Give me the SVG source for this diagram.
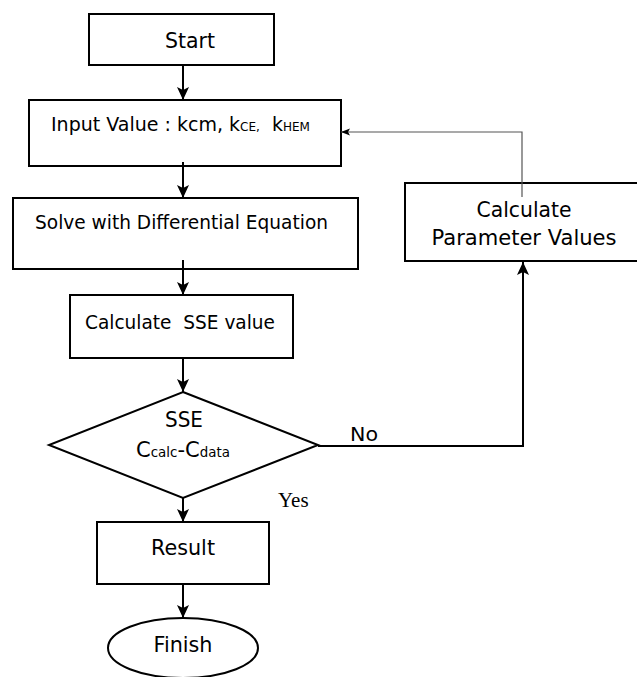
<svg xmlns="http://www.w3.org/2000/svg" width="637" height="677" viewBox="0 0 637 677">
<defs>
<style>
.box{fill:#fff;stroke:#000;stroke-width:2}
.t{font-family:"DejaVu Sans",Verdana,sans-serif;fill:#000}
.c{stroke:#000;stroke-width:2;fill:none}
.g{stroke:#555;stroke-width:1.2;fill:none}
</style>
<marker id="ah" markerUnits="userSpaceOnUse" markerWidth="14" markerHeight="14" viewBox="0 0 14 14" refX="13" refY="7" orient="auto">
<path d="M0,1 L13,7 L0,13 L3,7 Z" fill="#000"/>
</marker>
<marker id="ahs" markerUnits="userSpaceOnUse" markerWidth="10" markerHeight="10" viewBox="0 0 10 10" refX="9" refY="5" orient="auto">
<path d="M0,1.5 L9,5 L0,8.5 L2,5 Z" fill="#000"/>
</marker>
</defs>
<rect width="637" height="677" fill="#fff"/>
<g id="start">
<rect class="box" x="89" y="14" width="185" height="51"/>
<text class="t" x="190" y="48" font-size="21" text-anchor="middle" textLength="50" lengthAdjust="spacingAndGlyphs">Start</text>
</g>
<g id="input">
<rect class="box" x="29" y="100" width="312" height="66"/>
<text class="t" x="51" y="131" font-size="19" textLength="259" lengthAdjust="spacingAndGlyphs" xml:space="preserve">Input Value : kcm, k<tspan font-size="12">CE,</tspan>  k<tspan font-size="12">HEM</tspan></text>
</g>
<g id="solve">
<rect class="box" x="13" y="198" width="345" height="71"/>
<text class="t" x="35" y="229" font-size="19" textLength="293" lengthAdjust="spacingAndGlyphs">Solve with Differential Equation</text>
</g>
<g id="calcsse">
<rect class="box" x="70" y="295" width="223" height="63"/>
<text class="t" x="85" y="329" font-size="19" textLength="190" lengthAdjust="spacingAndGlyphs" xml:space="preserve">Calculate  SSE value</text>
</g>
<g id="decision">
<polygon class="box" points="183,392 318,445 183,498 49,445"/>
<text class="t" x="184" y="427" font-size="21" text-anchor="middle" textLength="38" lengthAdjust="spacingAndGlyphs">SSE</text>
<text class="t" x="183" y="457" font-size="22" text-anchor="middle" textLength="94" lengthAdjust="spacingAndGlyphs">C<tspan font-size="14">calc</tspan>-C<tspan font-size="14">data</tspan></text>
</g>
<text class="t" x="350" y="441" font-size="20" textLength="28" lengthAdjust="spacingAndGlyphs">No</text>
<text x="278" y="507" font-size="21" font-family="'Liberation Serif','Times New Roman',serif">Yes</text>
<g id="calcparam">
<rect class="box" x="405" y="183" width="240" height="78"/>
<text class="t" x="524" y="217" font-size="21" text-anchor="middle" textLength="95" lengthAdjust="spacingAndGlyphs">Calculate</text>
<text class="t" x="524" y="245" font-size="21" text-anchor="middle" textLength="185" lengthAdjust="spacingAndGlyphs">Parameter Values</text>
</g>
<g id="result">
<rect class="box" x="97" y="522" width="172" height="62"/>
<text class="t" x="183" y="555" font-size="21" text-anchor="middle" textLength="64" lengthAdjust="spacingAndGlyphs">Result</text>
</g>
<g id="finish">
<ellipse class="box" cx="183" cy="648" rx="75" ry="30"/>
<text class="t" x="183" y="652" font-size="21" text-anchor="middle" textLength="59" lengthAdjust="spacingAndGlyphs">Finish</text>
</g>
<g id="connectors">
<line class="c" x1="183" y1="65" x2="183" y2="100" marker-end="url(#ah)"/>
<line class="c" x1="183" y1="162" x2="183" y2="198" marker-end="url(#ah)"/>
<line class="c" x1="183" y1="260" x2="183" y2="295" marker-end="url(#ah)"/>
<line class="c" x1="183" y1="358" x2="183" y2="392" marker-end="url(#ah)"/>
<line class="c" x1="183" y1="498" x2="183" y2="522" marker-end="url(#ah)"/>
<line class="c" x1="183" y1="584" x2="183" y2="618" marker-end="url(#ah)"/>
<polyline class="c" points="318,446 523,446 523,262" marker-end="url(#ah)"/>
<polyline class="g" points="522,197 522,132 341,132" marker-end="url(#ahs)"/>
</g>
</svg>
